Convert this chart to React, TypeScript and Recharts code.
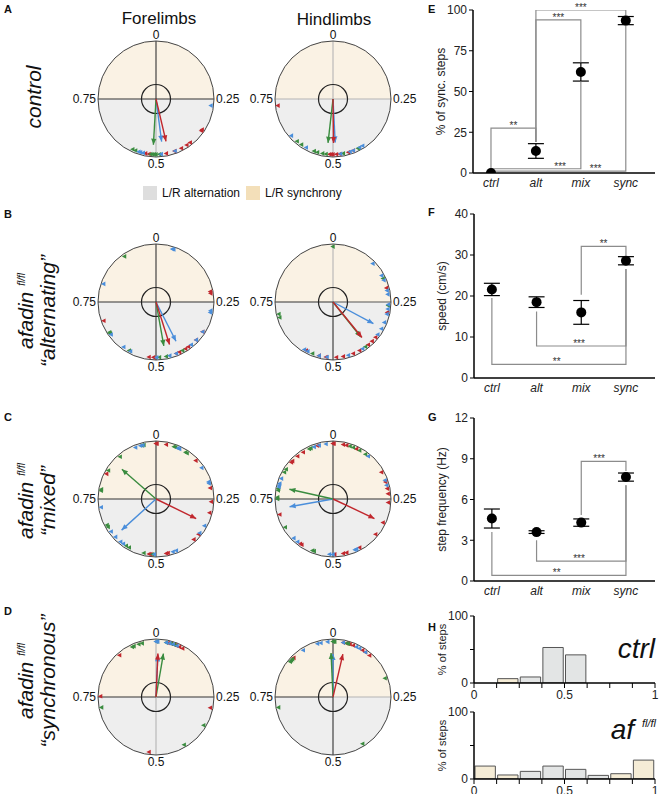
import React from "react";
import {
  ScatterChart,
  Scatter,
  XAxis,
  YAxis,
  ReferenceLine,
  ReferenceDot,
  ErrorBar,
  PieChart,
  Pie,
  Cell,
  BarChart,
  Bar,
} from "recharts";

const FONT = '"Liberation Sans", Arial, Helvetica, sans-serif';

// step phases (0 = left/right in sync, 0.5 = alternating), one array per animal
const aForeRed = [0.343, 0.347, 0.394, 0.406, 0.424, 0.445, 0.47, 0.52, 0.53];
const aForeGreen = [0.49, 0.5, 0.505, 0.51, 0.515, 0.56, 0.569];
const aForeBlue = [0.269, 0.444, 0.485, 0.537, 0.545, 0.55];
const aForeMeanPhase = [0.463, 0.509, 0.479];
const aForeMeanLen = [0.75, 0.79, 0.74];

const aHindRed = [0.731, 0.44, 0.455, 0.48, 0.49, 0.5, 0.505, 0.51];
const aHindGreen = [0.612, 0.596, 0.555, 0.545, 0.53, 0.52, 0.47, 0.425];
const aHindBlue = [0.635, 0.58, 0.478, 0.45, 0.44, 0.42, 0.41];
const aHindMeanPhase = [0.498, 0.518, 0.492];
const aHindMeanLen = [0.76, 0.76, 0.75];

const bForeRed = [0.22, 0.225, 0.695, 0.52, 0.507, 0.44, 0.43, 0.41, 0.4, 0.37, 0.34];
const bForeGreen = [0.904, 0.654, 0.658, 0.58, 0.49, 0.47, 0.42];
const bForeBlue = [0.048, 0.052, 0.803, 0.275, 0.28, 0.65, 0.599, 0.576, 0.498, 0.46, 0.44, 0.39, 0.37, 0.34];
const bForeMeanPhase = [0.451, 0.472, 0.425];
const bForeMeanLen = [0.77, 0.77, 0.76];

const bHindRed = [0.209, 0.28, 0.36, 0.375, 0.39, 0.42, 0.44, 0.47, 0.49, 0.52, 0.54, 0.58];
const bHindGreen = [0.0, 0.18, 0.26, 0.705, 0.715, 0.56, 0.4];
const bHindBlue = [0.128, 0.171, 0.186, 0.217, 0.228, 0.257, 0.27, 0.285, 0.31, 0.33, 0.35, 0.41, 0.455, 0.586, 0.575, 0.54, 0.517];
const bHindMeanPhase = [0.391, 0.393, 0.328];
const bHindMeanLen = [0.79, 0.77, 0.79];

const cForeRed = [0.0, 0.003, 0.03, 0.128, 0.218, 0.258, 0.29, 0.36, 0.38, 0.465, 0.47, 0.515, 0.52, 0.825];
const cForeGreen = [0.96, 0.965, 0.053, 0.058, 0.09, 0.095, 0.888, 0.836, 0.774, 0.778, 0.666, 0.672, 0.59, 0.58, 0.51, 0.535];
const cForeBlue = [0.94, 0.955, 0.962, 0.065, 0.07, 0.155, 0.2, 0.205, 0.726, 0.65, 0.63, 0.61, 0.6, 0.355, 0.33, 0.45, 0.44, 0.505];
const cForeMeanPhase = [0.322, 0.864, 0.633];
const cForeMeanLen = [0.77, 0.78, 0.8];

const cHindRed = [0.0, 0.003, 0.03, 0.04, 0.07, 0.955, 0.91, 0.89, 0.865, 0.87, 0.17, 0.2, 0.22, 0.235, 0.26, 0.705, 0.6, 0.595, 0.32, 0.36, 0.42, 0.46, 0.47, 0.495];
const cHindGreen = [0.05, 0.06, 0.08, 0.1, 0.93, 0.935, 0.84, 0.83, 0.775, 0.78, 0.75, 0.755, 0.665, 0.56, 0.555];
const cHindBlue = [0.98, 0.96, 0.945, 0.11, 0.81, 0.795, 0.785, 0.79, 0.195, 0.21, 0.625, 0.61, 0.43, 0.435, 0.51, 0.5];
const cHindMeanPhase = [0.32, 0.785, 0.722];
const cHindMeanLen = [0.79, 0.77, 0.76];

const dForeRed = [0.045, 0.055, 0.06, 0.07, 0.08, 0.035, 0.886, 0.752, 0.281, 0.52];
const dForeGreen = [0.002, 0.03, 0.045, 0.055, 0.93, 0.935, 0.95, 0.96, 0.72, 0.335, 0.415];
const dForeBlue = [0.0, 0.005, 0.03, 0.04, 0.05, 0.062];
const dForeMeanPhase = [0.007, 0.027, 0.007];
const dForeMeanLen = [0.75, 0.76, 0.72];

const dHindRed = [0.03, 0.04, 0.045, 0.05, 0.06, 0.09, 0.1, 0.115, 0.875];
const dHindGreen = [0.0, 0.002, 0.005, 0.04, 0.045, 0.86, 0.865, 0.87, 0.195, 0.72, 0.41];
const dHindBlue = [0.955, 0.965, 0.985, 0.91, 0.03, 0.07, 0.08, 0.1];
const dHindMeanPhase = [0.036, 0.993, 0.0];
const dHindMeanLen = [0.76, 0.76, 0.74];

// group summaries (mean and error)
const groups = ["ctrl", "alt", "mix", "sync"];
const syncPct = [0, 13.5, 62, 93.5];
const syncPctErr = [0, 4.5, 5.6, 2.5];
const speed = [21.6, 18.5, 16.0, 28.6];
const speedErr = [1.5, 1.3, 2.9, 1.0];
const stepFreq = [4.6, 3.6, 4.3, 7.65];
const stepFreqErr = [0.7, 0.1, 0.27, 0.3];

// significance brackets: [from, to, top, leg at from, leg at to, stars, label x]
type Bracket = [number, number, number, number, number, string, number];
const syncBrackets: Bracket[] = [
  [0, 1, 27.5, 1, 19, "**", 0.5],
  [1, 2, 94, 19, 68, "***", 1.5],
  [1, 3, 100, 19, 96.5, "***", 2.0],
  [0, 2, 2.6, 2.6, 56, "***", 1.54],
  [0, 3, 1.2, 1.2, 91, "***", 2.33],
];
const speedBrackets: Bracket[] = [
  [2, 3, 32.1, 20.3, 29.8, "**", 2.5],
  [1, 3, 7.8, 16.2, 26.6, "***", 1.95],
  [0, 3, 3.3, 19.5, 26.6, "**", 1.45],
];
const freqBrackets: Bracket[] = [
  [2, 3, 8.8, 4.85, 8.1, "***", 2.4],
  [1, 3, 1.47, 3.0, 7.05, "***", 1.95],
  [0, 3, 0.42, 3.6, 7.05, "**", 1.45],
];

// phase histograms, 8 bins of width 0.125
const binMid = [0.0625, 0.1875, 0.3125, 0.4375, 0.5625, 0.6875, 0.8125, 0.9375];
const histTicks = [0, 0.125, 0.25, 0.375, 0.5, 0.625, 0.75, 0.875, 1];
const ctrlHist = [0, 6.5, 9, 53, 42, 0, 0, 0];
const afHist = [19.3, 6, 11.4, 19.3, 14.4, 5.4, 7.9, 28.2];

const LIMB = ["#c1272d", "#3a8c3f", "#4a8edb"];
const SYNC_BG = "#faf2e4";
const ALT_BG = "#eeeeee";
const SYNC_KEY = "#f3dfb9";
const ALT_KEY = "#dedede";
const DARK = "#333333";
const LIGHT = "#b4b4b4";

const BOX = 200;
const R = 58;
const L = BOX / 2 / R;
const halves = [
  { name: "L/R synchrony", value: 1 },
  { name: "L/R alternation", value: 1 },
];
// blue first so the red mean vector ends up on top
const drawOrder = [2, 1, 0];

function polarXY(phase: number, r: number) {
  const a = 2 * Math.PI * phase;
  return { x: r * Math.sin(a), y: r * Math.cos(a) };
}

function StepMark({ cx, cy, color }: any) {
  return (
    <polygon
      points={`${cx - 2.7},${cy} ${cx + 1.7},${cy - 2.3} ${cx + 1.7},${cy + 2.3}`}
      fill={color}
    />
  );
}

function ArrowTip({ cx, cy, payload, color }: any) {
  if (payload == null || payload.tip === undefined) return <g />;
  const deg = payload.tip * 360 - 90;
  return (
    <polygon
      points="0,0 -6,-2.6 -6,2.6"
      fill={color}
      transform={`translate(${cx},${cy}) rotate(${deg})`}
    />
  );
}

function PolarPlot({
  cx,
  cy,
  steps,
  meanPhase,
  meanLen,
  axes,
}: {
  cx: number;
  cy: number;
  steps: number[][];
  meanPhase: number[];
  meanLen: number[];
  axes: string[];
}) {
  const pos = { position: "absolute" as const, left: cx - BOX / 2, top: cy - BOX / 2 };
  const lbl = (value: string, position: any) => ({
    value,
    position,
    offset: 2,
    fontSize: 12,
    fill: "#111",
  });
  return (
    <>
      <div style={pos}>
        <PieChart width={BOX} height={BOX} margin={{ top: 0, right: 0, bottom: 0, left: 0 }}>
          <Pie
            data={halves}
            dataKey="value"
            cx={BOX / 2}
            cy={BOX / 2}
            innerRadius={0}
            outerRadius={R}
            startAngle={0}
            endAngle={360}
            stroke="none"
            isAnimationActive={false}
          >
            <Cell fill={SYNC_BG} />
            <Cell fill={ALT_BG} />
          </Pie>
        </PieChart>
      </div>
      <div style={pos}>
        <ScatterChart width={BOX} height={BOX} margin={{ top: 0, right: 0, bottom: 0, left: 0 }}>
          <XAxis type="number" dataKey="x" domain={[-L, L]} hide allowDataOverflow />
          <YAxis type="number" dataKey="y" domain={[-L, L]} hide allowDataOverflow />
          <ReferenceLine segment={[{ x: 0, y: 0 }, { x: 0, y: 1 }]} stroke={axes[0]} strokeWidth={1.1} />
          <ReferenceLine segment={[{ x: 0, y: 0 }, { x: 1, y: 0 }]} stroke={axes[1]} strokeWidth={1.1} />
          <ReferenceLine segment={[{ x: 0, y: 0 }, { x: 0, y: -1 }]} stroke={axes[2]} strokeWidth={1.1} />
          <ReferenceLine segment={[{ x: 0, y: 0 }, { x: -1, y: 0 }]} stroke={axes[3]} strokeWidth={1.1} />
          <ReferenceDot x={0} y={0} r={R} fill="none" stroke="#444" strokeWidth={1} />
          <ReferenceDot x={0} y={0} r={R * 0.25} fill="none" stroke="#222" strokeWidth={1.2} />
          <ReferenceDot x={0} y={1} r={0} fill="none" stroke="none" label={lbl("0", "top")} />
          <ReferenceDot x={1} y={0} r={0} fill="none" stroke="none" label={lbl("0.25", "right")} />
          <ReferenceDot x={0} y={-1} r={0} fill="none" stroke="none" label={lbl("0.5", "bottom")} />
          <ReferenceDot x={-1} y={0} r={0} fill="none" stroke="none" label={lbl("0.75", "left")} />
          {steps.map((s, i) => (
            <Scatter
              key={"s" + i}
              data={s.map((p) => polarXY(p, 0.955))}
              fill={LIMB[i]}
              isAnimationActive={false}
              shape={(p: any) => <StepMark {...p} color={LIMB[i]} />}
            />
          ))}
          {drawOrder.map((i) => (
            <Scatter
              key={"v" + i}
              data={[{ x: 0, y: 0 }, { ...polarXY(meanPhase[i], meanLen[i]), tip: meanPhase[i] }]}
              fill={LIMB[i]}
              line={{ stroke: LIMB[i], strokeWidth: 1.4 }}
              lineType="joint"
              isAnimationActive={false}
              shape={(p: any) => <ArrowTip {...p} color={LIMB[i]} />}
            />
          ))}
        </ScatterChart>
      </div>
    </>
  );
}

function DotPlot({
  plotLeft,
  plotTop,
  plotH,
  values,
  errors,
  brackets,
  yMax,
  yTicks,
  yLabel,
}: {
  plotLeft: number;
  plotTop: number;
  plotH: number;
  values: number[];
  errors: number[];
  brackets: Bracket[];
  yMax: number;
  yTicks: number[];
  yLabel: string;
}) {
  const YW = 48;
  const XH = 24;
  const MT = 10;
  const MR = 5;
  const plotW = 655 - plotLeft;
  const data = values.map((v, i) => ({ x: i, y: v, err: errors[i] }));
  return (
    <div style={{ position: "absolute", left: plotLeft - YW, top: plotTop - MT }}>
      <ScatterChart
        width={YW + plotW + MR}
        height={MT + plotH + XH}
        margin={{ top: MT, right: MR, bottom: 0, left: 0 }}
      >
        <XAxis
          type="number"
          dataKey="x"
          domain={[-0.4, 3.65]}
          ticks={[0, 1, 2, 3]}
          tickFormatter={(v: number) => groups[v]}
          allowDataOverflow
          height={XH}
          tickLine={false}
          tickSize={3}
          axisLine={{ stroke: "#000", strokeWidth: 1.5 }}
          tick={{ fontSize: 12, fontStyle: "italic", fill: "#222" }}
        />
        <YAxis
          type="number"
          dataKey="y"
          domain={[0, yMax]}
          ticks={yTicks}
          allowDataOverflow
          width={YW}
          tickSize={4}
          axisLine={{ stroke: "#000", strokeWidth: 1.5 }}
          tickLine={{ stroke: "#000" }}
          tick={{ fontSize: 12, fill: "#222" }}
          label={{
            value: yLabel,
            angle: -90,
            position: "insideLeft",
            offset: 16,
            fontSize: 12,
            fill: "#222",
            style: { textAnchor: "middle" },
          }}
        />
        {brackets.map((b, i) => (
          <Scatter
            key={"b" + i}
            data={[
              { x: b[0], y: b[3] },
              { x: b[0], y: b[2] },
              { x: b[1], y: b[2] },
              { x: b[1], y: b[4] },
            ]}
            fill="none"
            line={{ stroke: "#8c8c8c", strokeWidth: 1.2 }}
            lineType="joint"
            isAnimationActive={false}
            shape={() => <g />}
          />
        ))}
        {brackets.map((b, i) => (
          <ReferenceDot
            key={"l" + i}
            x={b[6]}
            y={b[2]}
            r={0}
            fill="none"
            stroke="none"
            label={{
              value: b[5],
              position: "top",
              offset: -1,
              fontSize: 10,
              fill: "#333",
              style: { fill: "#333" },
            }}
          />
        ))}
        <Scatter
          data={data}
          fill="#000"
          isAnimationActive={false}
          shape={(p: any) => <circle cx={p.cx} cy={p.cy} r={5} fill="#000" />}
        >
          <ErrorBar dataKey="err" direction="y" width={8} stroke="#000" strokeWidth={1.2} />
        </Scatter>
      </ScatterChart>
    </div>
  );
}

function Histogram({ plotLeft, plotTop, values }: { plotLeft: number; plotTop: number; values: number[] }) {
  const YW = 48;
  const XH = 24;
  const MT = 8;
  const MR = 5;
  const plotW = 655 - plotLeft;
  const plotH = 67;
  const data = binMid.map((x, i) => ({ x, pct: values[i] }));
  return (
    <div style={{ position: "absolute", left: plotLeft - YW, top: plotTop - MT }}>
      <BarChart
        width={YW + plotW + MR}
        height={MT + plotH + XH}
        data={data}
        margin={{ top: MT, right: MR, bottom: 0, left: 0 }}
        barCategoryGap={0}
        barGap={0}
      >
        <XAxis
          type="number"
          dataKey="x"
          domain={[0, 1]}
          ticks={histTicks}
          allowDataOverflow
          height={XH}
          tickSize={5}
          tickFormatter={(v: number) => (v === 0 || v === 0.5 || v === 1 ? String(v) : "")}
          axisLine={{ stroke: "#000", strokeWidth: 1.5 }}
          tickLine={{ stroke: "#000" }}
          tick={{ fontSize: 12, fill: "#222" }}
        />
        <YAxis
          type="number"
          domain={[0, 100]}
          ticks={[0, 50, 100]}
          allowDataOverflow
          width={YW}
          tickSize={4}
          tickFormatter={(v: number) => (v === 50 ? "" : String(v))}
          axisLine={{ stroke: "#000", strokeWidth: 1.5 }}
          tickLine={{ stroke: "#000" }}
          tick={{ fontSize: 12, fill: "#222" }}
          label={{
            value: "% of steps",
            angle: -90,
            position: "insideLeft",
            offset: 16,
            fontSize: 11,
            fill: "#222",
            style: { textAnchor: "middle" },
          }}
        />
        <Bar dataKey="pct" barSize={plotW / 8} stroke="#555" strokeWidth={1} isAnimationActive={false}>
          {data.map((d, i) => (
            <Cell key={i} fill={d.x < 0.25 || d.x > 0.75 ? "#f5ecd6" : "#e3e5e5"} />
          ))}
        </Bar>
      </BarChart>
    </div>
  );
}

const letter = (t: string, left: number, top: number) => (
  <div style={{ position: "absolute", left, top, fontSize: 11, fontWeight: "bold", lineHeight: "13px" }}>{t}</div>
);

function RowLabel({ cx, cy, lines }: { cx: number; cy: number; lines: React.ReactNode[] }) {
  return (
    <div
      style={{
        position: "absolute",
        left: cx,
        top: cy,
        transform: "translate(-50%, -50%) rotate(-90deg)",
        whiteSpace: "nowrap",
        textAlign: "center",
        fontStyle: "italic",
        fontSize: 21,
        lineHeight: "22px",
      }}
    >
      {lines.map((l, i) => (
        <div key={i}>{l}</div>
      ))}
    </div>
  );
}

const afadin = (
  <span>
    afadin <sup style={{ fontSize: 10, verticalAlign: "8px" }}>fl/fl</sup>
  </span>
);

export default function App() {
  return (
    <div
      style={{
        position: "absolute",
        left: 0,
        top: 0,
        width: 660,
        height: 794,
        overflow: "hidden",
        background: "#fff",
        fontFamily: FONT,
        color: "#111",
      }}
    >
      <div style={{ position: "absolute", left: 159, top: 9, transform: "translateX(-50%)", fontSize: 17 }}>Forelimbs</div>
      <div style={{ position: "absolute", left: 334, top: 10, transform: "translateX(-50%)", fontSize: 17 }}>Hindlimbs</div>

      {letter("A", 4, 3)}
      {letter("B", 4, 208)}
      {letter("C", 4, 411)}
      {letter("D", 4, 605)}
      {letter("E", 428, 3)}
      {letter("F", 428, 206)}
      {letter("G", 428, 411)}
      {letter("H", 428, 621)}

      <RowLabel cx={34} cy={97} lines={["control"]} />
      <RowLabel cx={35} cy={311} lines={[afadin, "\u201calternating\u201d"]} />
      <RowLabel cx={35} cy={501} lines={[afadin, "\u201cmixed\u201d"]} />
      <RowLabel cx={35} cy={681} lines={[afadin, "\u201csynchronous\u201d"]} />

      <PolarPlot cx={156} cy={99} steps={[aForeRed, aForeGreen, aForeBlue]} meanPhase={aForeMeanPhase} meanLen={aForeMeanLen} axes={[DARK, DARK, LIGHT, DARK]} />
      <PolarPlot cx={333} cy={99} steps={[aHindRed, aHindGreen, aHindBlue]} meanPhase={aHindMeanPhase} meanLen={aHindMeanLen} axes={[LIGHT, LIGHT, LIGHT, LIGHT]} />
      <PolarPlot cx={156} cy={302} steps={[bForeRed, bForeGreen, bForeBlue]} meanPhase={bForeMeanPhase} meanLen={bForeMeanLen} axes={[DARK, DARK, DARK, DARK]} />
      <PolarPlot cx={333} cy={302} steps={[bHindRed, bHindGreen, bHindBlue]} meanPhase={bHindMeanPhase} meanLen={bHindMeanLen} axes={[LIGHT, "#555", DARK, DARK]} />
      <PolarPlot cx={156} cy={499} steps={[cForeRed, cForeGreen, cForeBlue]} meanPhase={cForeMeanPhase} meanLen={cForeMeanLen} axes={[DARK, DARK, DARK, DARK]} />
      <PolarPlot cx={333} cy={499} steps={[cHindRed, cHindGreen, cHindBlue]} meanPhase={cHindMeanPhase} meanLen={cHindMeanLen} axes={[DARK, DARK, DARK, DARK]} />
      <PolarPlot cx={156} cy={697} steps={[dForeRed, dForeGreen, dForeBlue]} meanPhase={dForeMeanPhase} meanLen={dForeMeanLen} axes={[LIGHT, DARK, LIGHT, DARK]} />
      <PolarPlot cx={333} cy={697} steps={[dHindRed, dHindGreen, dHindBlue]} meanPhase={dHindMeanPhase} meanLen={dHindMeanLen} axes={[DARK, LIGHT, DARK, DARK]} />

      <div style={{ position: "absolute", left: 143, top: 186, width: 14, height: 14, background: ALT_KEY }} />
      <div style={{ position: "absolute", left: 162, top: 186, fontSize: 12, lineHeight: "14px" }}>L/R alternation</div>
      <div style={{ position: "absolute", left: 246, top: 186, width: 14, height: 14, background: SYNC_KEY }} />
      <div style={{ position: "absolute", left: 265, top: 186, fontSize: 12, lineHeight: "14px" }}>L/R synchrony</div>

      <DotPlot plotLeft={473} plotTop={10} plotH={163} values={syncPct} errors={syncPctErr} brackets={syncBrackets} yMax={100} yTicks={[0, 25, 50, 75, 100]} yLabel="% of sync. steps" />
      <DotPlot plotLeft={474} plotTop={214} plotH={164} values={speed} errors={speedErr} brackets={speedBrackets} yMax={40} yTicks={[0, 10, 20, 30, 40]} yLabel="speed (cm/s)" />
      <DotPlot plotLeft={474} plotTop={418} plotH={163} values={stepFreq} errors={stepFreqErr} brackets={freqBrackets} yMax={12} yTicks={[0, 3, 6, 9, 12]} yLabel="step frequency (Hz)" />

      <Histogram plotLeft={474} plotTop={616} values={ctrlHist} />
      <Histogram plotLeft={474} plotTop={712} values={afHist} />
      <div style={{ position: "absolute", right: 5, top: 633, fontSize: 28, fontStyle: "italic" }}>ctrl</div>
      <div style={{ position: "absolute", right: 4, top: 714, fontSize: 28, fontStyle: "italic" }}>
        af <sup style={{ fontSize: 11, verticalAlign: "12px" }}>fl/fl</sup>
      </div>
    </div>
  );
}
